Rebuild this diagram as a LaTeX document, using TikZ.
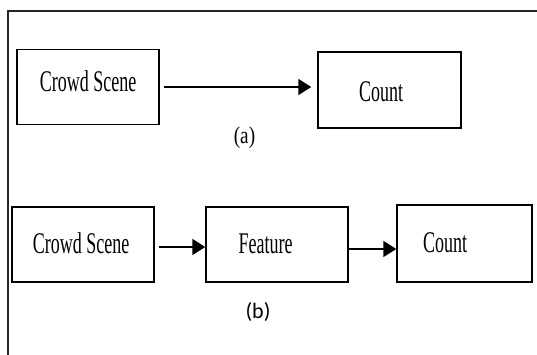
\documentclass[tikz,border=0pt]{standalone}
\usepackage{fontspec}
\setmainfont{Liberation Serif}
\newfontfamily\capfont{Carlito}
\usetikzlibrary{arrows.meta}
\newcommand\condtext[1]{\scalebox{0.6}[1]{#1}}
\begin{document}
\begin{tikzpicture}[x=1pt,y=-1pt,
  box/.style={draw, line width=1.4pt, inner sep=0pt, minimum height=75pt},
  txt/.style={anchor=base, inner sep=0pt, font=\fontsize{30}{33}\selectfont},
  arr/.style={line width=1.4pt, -{Triangle[length=13pt,width=16pt]}},
  frame/.style={line width=1.5pt, draw=black!85}]
\fill[white] (0,0) rectangle (537,355);
\useasboundingbox (0,0) rectangle (537,355);
% outer frame
\draw[frame] (8,360) -- (8,11) -- (545,11);
% (a)
\node[box, minimum width=142pt] (a1) at (88,87) {};
\node[box, minimum width=143pt, minimum height=76pt] (a2) at (389.5,90) {};
\node[txt] (ta1) at (88,91.5) {\condtext{Crowd Scene}};
\node[txt] (ta2) at (381,101.5) {\condtext{Count}};
\draw[arr, shorten <=4pt, shorten >=6pt] (a1.east) -- (a1.east -| a2.west);
\node[anchor=base, inner sep=0pt, font=\fontsize{24}{27}\selectfont] (la) at (244.5,144) {\scalebox{0.8}[1]{(a)}};
% (b)
\node[box, minimum width=142pt] (b1) at (83,244.5) {};
\node[box, minimum width=142pt] (b2) at (277,244.5) {};
\node[box, minimum width=135pt, minimum height=77pt] (b3) at (464.5,243.5) {};
\node[txt] (tb1) at (81,253.5) {\condtext{Crowd Scene}};
\node[txt] (tb2) at (265.5,253.5) {\condtext{Feature}};
\node[txt] (tb3) at (445,252.5) {\condtext{Count}};
\draw[arr, shorten <=4pt] ([yshift=-2.5pt]b1.east) -- ([yshift=-2.5pt]b1.east -| b2.west);
\draw[arr] ([yshift=-4.5pt]b2.east) -- ([yshift=-4.5pt]b2.east -| b3.west);
\node[anchor=base, inner sep=0pt, font=\capfont\fontsize{22}{26}\selectfont] (lb) at (258,318.5) {(b)};
\end{tikzpicture}
\end{document}
